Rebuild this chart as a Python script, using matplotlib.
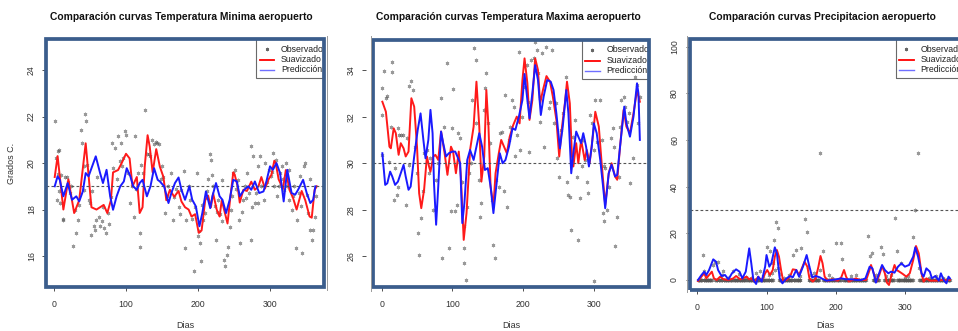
import matplotlib
matplotlib.use("Agg")
import matplotlib.pyplot as plt
from matplotlib.patches import Rectangle
from matplotlib.lines import Line2D

plt.rcParams['font.family'] = ['Liberation Sans', 'DejaVu Sans']

# ---------------- Temperatura minima ----------------
tmin_obs_dia = [2, 3, 4, 5, 6, 7, 7, 9, 10, 12, 13, 15, 18, 20, 22, 24, 26, 29, 31, 33,
                35, 37, 39, 41, 42, 43, 45, 46, 48, 50, 52, 53, 55, 57, 59, 60, 62, 64, 66, 68,
                69, 72, 75, 77, 79, 80, 82, 85, 87, 89, 91, 93, 95, 96, 98, 100, 103, 105, 108, 111,
                112, 114, 117, 119, 119, 121, 124, 127, 129, 132, 134, 136, 139, 141, 143, 146, 148, 150, 152, 154,
                157, 159, 162, 165, 167, 170, 173, 175, 177, 180, 182, 184, 187, 189, 191, 194, 196, 198, 200, 202,
                203, 204, 206, 207, 210, 212, 214, 216, 218, 219, 221, 224, 225, 227, 228, 231, 233, 234, 236, 238,
                240, 242, 244, 246, 247, 249, 251, 253, 255, 257, 259, 261, 263, 265, 267, 268, 271, 273, 273, 275,
                277, 279, 281, 283, 284, 286, 288, 291, 293, 296, 298, 301, 303, 304, 306, 308, 310, 312, 314, 316,
                318, 319, 322, 324, 326, 327, 330, 332, 333, 336, 338, 340, 341, 343, 345, 347, 349, 351, 353, 355,
                356, 358, 360, 362, 364]
tmin_obs = [21.8, 20.2, 18.4, 19.55, 20.5, 20.57, 18.8, 18.3, 19.5, 17.55, 17.6, 19.4, 19.4, 19.2, 18.7, 19.0, 16.45, 18.0, 17.0, 17.55,
            18.2, 21.43, 20.86, 19.86, 18.85, 22.1, 21.8, 19.9, 18.4, 18.3, 16.9, 18.8, 17.3, 17.1, 17.55, 19.4, 17.7, 17.3, 17.5, 18.1,
            17.2, 17.0, 17.85, 17.4, 18.55, 20.86, 19.8, 20.65, 19.3, 21.15, 20.1, 20.86, 19.86, 20.2, 21.36, 21.2, 19.57, 18.3, 19.0, 17.7,
            21.15, 18.9, 19.57, 17.0, 16.4, 19.9, 19.57, 22.3, 20.4, 20.4, 20.3, 21.0, 20.8, 20.9, 20.86, 20.8, 19.3, 19.86, 19.4, 17.85,
            18.6, 19.0, 19.57, 17.55, 18.55, 18.9, 18.1, 17.8, 18.85, 19.64, 16.35, 17.55, 19.0, 18.4, 17.6, 15.34, 18.1, 19.57, 16.85, 17.06,
            16.56, 15.77, 18.2, 17.55, 17.85, 18.8, 19.3, 20.4, 20.14, 19.5, 19.0, 18.14, 16.7, 17.9, 18.4, 17.8, 19.28, 17.5, 15.84, 15.56,
            16.06, 16.4, 17.27, 18.0, 18.57, 19.57, 19.71, 18.9, 19.28, 17.56, 16.56, 17.9, 18.42, 19.0, 18.5, 19.57, 18.71, 16.7, 20.72, 18.1,
            20.29, 18.28, 18.71, 18.3, 19.86, 20.29, 19.0, 18.42, 20.0, 19.2, 19.71, 19.43, 19.6, 20.43, 19.0, 20.14, 18.6, 19.0, 19.57, 19.86,
            19.3, 18.85, 20.0, 19.0, 19.7, 18.42, 17.99, 18.6, 19.0, 16.35, 17.56, 18.7, 19.43, 18.14, 16.13, 19.86, 20.0, 18.64, 17.85, 19.3,
            17.13, 16.7, 17.13, 17.7, 18.57]

tmin_suav_dia = [1, 5, 13, 20, 28, 35, 44, 52, 59, 64, 69, 74, 79, 82, 89, 94, 100, 105, 109, 115,
                 119, 123, 126, 130, 133, 137, 142, 147, 152, 156, 161, 167, 173, 177, 182, 187, 191, 196, 201, 205,
                 210, 214, 218, 221, 226, 230, 233, 237, 241, 245, 249, 251, 255, 258, 263, 268, 274, 279, 284, 288,
                 293, 298, 302, 306, 308, 312, 318, 322, 327, 332, 337, 344, 349, 355, 358, 362, 365]
tmin_suav = [19.4, 20.3, 18.0, 19.3, 17.85, 18.4, 20.85, 18.1, 18.0, 18.1, 18.2, 17.85, 18.4, 19.6, 19.7, 20.0, 20.4, 20.2, 19.0, 19.4,
             17.85, 18.1, 19.85, 21.2, 20.7, 19.6, 20.6, 19.85, 19.4, 18.4, 18.85, 18.55, 18.8, 18.35, 18.1, 18.0, 17.7, 17.8, 17.0, 17.1,
             18.4, 18.6, 18.1, 18.7, 18.0, 17.7, 18.4, 17.9, 17.4, 18.55, 19.6, 19.5, 19.0, 18.3, 18.85, 18.8, 19.2, 18.85, 19.0, 19.4,
             18.9, 19.3, 19.5, 20.1, 20.0, 19.3, 18.9, 19.7, 18.85, 18.5, 18.0, 18.8, 18.4, 17.7, 17.65, 18.85, 19.0]

tmin_pred_dia = [1, 5, 8, 13, 19, 25, 31, 35, 40, 44, 48, 58, 64, 68, 73, 78, 82, 87, 92, 97,
                 101, 106, 110, 115, 119, 123, 129, 134, 139, 144, 147, 153, 159, 163, 168, 173, 177, 182, 188, 192,
                 197, 202, 206, 211, 217, 220, 225, 230, 234, 239, 244, 249, 254, 258, 264, 270, 274, 279, 285, 291,
                 295, 300, 304, 309, 314, 319, 324, 330, 335, 339, 346, 351, 356, 360, 363]
tmin_pred = [19.0, 19.43, 19.28, 18.57, 19.14, 18.42, 18.57, 18.35, 18.78, 19.57, 19.43, 20.29, 19.57, 19.14, 19.71, 18.57, 17.99, 18.57, 19.0, 19.21,
             19.78, 19.43, 19.0, 18.85, 19.14, 19.28, 18.57, 19.0, 19.78, 19.28, 19.21, 19.0, 18.28, 18.71, 19.14, 19.38, 18.85, 18.42, 19.0, 18.42,
             18.14, 17.28, 17.85, 18.78, 18.06, 18.57, 19.14, 18.57, 18.42, 17.85, 18.42, 19.28, 19.21, 18.57, 18.85, 19.0, 18.85, 19.21, 18.71, 18.78,
             19.21, 19.86, 19.71, 20.0, 19.57, 18.35, 19.71, 18.71, 18.64, 18.85, 19.28, 18.71, 18.28, 18.42, 19.0]
tmin_ref = 19

# ---------------- Temperatura maxima ----------------
tmax_obs_dia = [0.5, 1, 4, 6, 8, 1, 11, 13, 14, 15, 17, 19, 23, 25, 27, 30, 22, 23, 35, 36,
                38, 39, 42, 45, 47, 50, 51, 53, 55, 58, 60, 64, 67, 69, 72, 77, 79, 84, 86, 88,
                93, 95, 98, 100, 101, 103, 106, 108, 111, 114, 116, 117, 119, 116, 121, 123, 127, 128, 131, 133,
                134, 138, 139, 140, 144, 146, 148, 151, 153, 156, 158, 160, 162, 166, 167, 170, 173, 175, 177, 180,
                182, 184, 187, 189, 192, 194, 196, 199, 202, 205, 207, 208, 211, 215, 217, 219, 221, 224, 224, 227,
                230, 233, 236, 238, 241, 243, 246, 248, 251, 254, 256, 260, 262, 264, 266, 268, 270, 274, 276, 278,
                280, 283, 285, 288, 290, 292, 295, 297, 300, 300, 302, 304, 308, 311, 314, 316, 313, 315, 318, 322,
                324, 327, 329, 330, 332, 335, 337, 339, 342, 344, 347, 349, 351, 355, 358, 361, 363, 365]
tmax_obs = [33.24, 32.07, 33.97, 32.79, 32.9, 30.36, 30.07, 31.57, 34.34, 33.93, 28.43, 29.79, 31.5, 31.2, 31.2, 31.2, 28.64, 29.0, 28.21, 31.07,
            29.93, 33.31, 33.53, 33.14, 30.71, 29.57, 27.0, 26.07, 27.64, 28.79, 30.43, 30.57, 29.57, 30.21, 28.0, 29.29, 30.0, 32.79, 25.93, 31.57,
            34.29, 26.36, 27.93, 31.5, 33.17, 27.97, 28.21, 31.29, 31.07, 29.21, 27.29, 26.36, 25.0, 25.71, 28.14, 29.57, 30.0, 32.71, 34.93, 34.43,
            31.71, 29.29, 27.71, 28.29, 32.29, 33.21, 33.86, 31.71, 30.86, 28.43, 26.5, 25.93, 29.29, 29.0, 31.29, 31.36, 28.79, 32.93, 28.14, 31.0,
            31.57, 32.71, 32.43, 30.29, 31.21, 34.79, 30.57, 32.0, 33.29, 34.21, 32.64, 30.5, 34.43, 34.5, 35.21, 34.86, 33.86, 32.79, 31.79, 34.71,
            30.71, 35.0, 32.36, 32.64, 34.86, 31.71, 32.57, 30.21, 29.43, 31.43, 32.14, 33.69, 29.21, 28.64, 28.57, 27.14, 31.14, 31.86, 29.43, 26.71,
            28.5, 29.86, 31.0, 30.14, 29.21, 28.71, 32.07, 31.71, 30.57, 24.93, 32.71, 30.93, 32.71, 31.0, 29.86, 29.79, 27.86, 27.5, 28.0, 29.0,
            31.07, 31.5, 30.71, 26.43, 27.71, 29.43, 31.57, 32.71, 32.86, 32.43, 31.79, 32.14, 29.14, 30.21, 33.69, 33.36, 31.71, 32.86]

tmax_suav_dia = [1, 6, 11, 13, 17, 20, 24, 27, 31, 34, 38, 42, 46, 50, 53, 56, 60, 64, 67, 69,
                 73, 76, 80, 84, 89, 93, 98, 101, 105, 109, 112, 116, 120, 125, 130, 134, 138, 141, 145, 148,
                 151, 154, 158, 161, 166, 169, 173, 177, 181, 186, 191, 195, 199, 202, 206, 209, 213, 217, 221, 224,
                 228, 233, 238, 242, 247, 251, 255, 259, 262, 266, 269, 271, 275, 278, 282, 287, 290, 294, 299, 302,
                 307, 311, 316, 321, 325, 330, 333, 337, 342, 346, 351, 356, 361, 365]
tmax_suav = [32.64, 32.21, 30.71, 30.64, 31.5, 31.29, 30.36, 30.86, 30.64, 30.29, 30.5, 32.79, 32.43, 30.71, 28.71, 28.07, 28.86, 30.29, 29.86, 29.64,
             30.29, 30.36, 30.14, 31.36, 30.43, 29.5, 30.71, 30.5, 29.57, 30.5, 29.43, 26.71, 27.86, 30.57, 31.57, 33.5, 31.57, 29.21, 30.29, 33.14,
             31.57, 29.0, 28.14, 29.57, 30.5, 31.0, 30.71, 30.43, 31.14, 31.64, 32.0, 31.71, 33.57, 34.5, 33.43, 31.86, 32.71, 34.5, 34.0, 32.57,
             33.14, 33.74, 33.5, 32.86, 31.86, 30.29, 31.57, 32.57, 33.5, 32.57, 30.29, 29.86, 30.86, 30.0, 31.0, 30.14, 30.57, 30.0, 31.29, 32.21,
             31.57, 30.0, 28.2, 29.57, 30.0, 29.43, 29.29, 30.71, 32.29, 31.57, 31.29, 32.14, 33.14, 32.64]

tmax_pred_dia = [1, 5, 8, 12, 15, 19, 23, 27, 31, 34, 38, 41, 46, 51, 55, 59, 62, 66, 69, 72,
                 74, 77, 80, 84, 87, 91, 95, 100, 104, 107, 111, 114, 117, 121, 125, 130, 134, 138, 142, 146,
                 150, 154, 158, 162, 167, 171, 175, 180, 185, 189, 194, 199, 202, 206, 209, 213, 217, 221, 225, 229,
                 234, 239, 243, 247, 252, 256, 261, 264, 268, 271, 275, 278, 282, 285, 289, 293, 297, 300, 304, 309,
                 313, 316, 321, 325, 330, 333, 337, 343, 346, 351, 356, 361, 363, 365]
tmax_pred = [30.43, 29.07, 29.14, 29.64, 29.43, 29.07, 29.21, 29.57, 29.93, 29.43, 28.86, 29.0, 30.29, 31.43, 32.14, 31.0, 30.21, 31.0, 32.29, 31.29,
             29.14, 27.36, 29.0, 31.36, 30.86, 30.29, 30.43, 30.5, 30.5, 30.29, 30.0, 27.43, 28.29, 30.14, 30.57, 30.14, 30.71, 31.29, 30.71, 29.71,
             29.79, 29.0, 27.86, 29.0, 30.43, 30.0, 30.14, 30.71, 31.5, 31.43, 32.0, 32.71, 33.83, 32.71, 31.93, 33.0, 34.21, 33.57, 32.07, 32.86,
             33.57, 33.5, 33.14, 32.14, 30.64, 31.57, 33.14, 32.14, 29.57, 30.43, 31.36, 31.14, 30.86, 31.29, 30.71, 29.86, 30.71, 31.71, 31.29, 30.14,
             29.0, 28.07, 29.57, 29.93, 29.43, 29.5, 30.71, 32.43, 31.71, 31.14, 32.0, 33.43, 33.0, 31.0]
tmax_ref = 30

# ---------------- Precipitacion ----------------
prec_lluvia_dia = [8, 10, 12, 22, 25, 30, 35, 37, 45, 52, 60, 71, 78, 85, 90, 95, 100, 103, 105, 108,
                   110, 111, 112, 114, 117, 117, 120, 125, 132, 138, 143, 148, 150, 155, 158, 160, 165, 168, 170, 177,
                   178, 181, 190, 195, 201, 208, 209, 222, 230, 246, 249, 252, 258, 266, 268, 272, 280, 286, 288, 295,
                   300, 305, 312, 314, 319, 320, 325, 335, 345, 355]
prec_lluvia = [10.7, 4.0, 1.5, 6.4, 7.6, 7.6, 2.0, 4.0, 1.0, 4.0, 2.5, 1.4, 1.0, 3.0, 4.0, 1.5, 14.3, 2.0, 12.6, 3.0,
               7.1, 17.1, 4.3, 25.0, 22.1, 5.0, 2.5, 1.0, 2.0, 10.7, 12.9, 1.5, 13.6, 26.0, 20.4, 5.7, 2.0, 3.0, 1.0, 54.3,
               4.3, 12.6, 2.0, 1.0, 15.7, 15.7, 9.2, 1.5, 2.0, 19.0, 10.3, 11.7, 2.0, 14.0, 11.1, 1.5, 2.0, 26.5, 12.3, 7.1,
               1.0, 1.5, 18.6, 30.0, 54.3, 5.0, 2.0, 1.0, 1.5, 1.0]
# runs of days with no rain (observed value 0)
prec_dias_secos = [(1, 7), (9, 21), (26, 29), (31, 36), (38, 51), (53, 70), (72, 89), (91, 99), (101, 104),
                   (106, 109), (118, 137), (139, 142), (144, 149), (161, 167), (169, 176), (182, 200),
                   (202, 207), (211, 244), (254, 262), (270, 284), (289, 294), (296, 311), (321, 365)]

prec_suav_dia = [1, 6, 10, 13, 17, 21, 24, 28, 33, 38, 45, 52, 56, 62, 66, 71, 75, 78, 83, 88,
                 93, 98, 101, 105, 109, 112, 115, 118, 121, 124, 129, 134, 138, 143, 147, 150, 155, 159, 162, 167,
                 171, 175, 178, 181, 184, 189, 194, 199, 203, 208, 212, 215, 219, 224, 229, 235, 244, 249, 251, 255,
                 259, 263, 267, 271, 274, 277, 280, 285, 288, 292, 297, 302, 307, 312, 316, 320, 324, 327, 331, 336,
                 345, 355, 365]
prec_suav = [-0.43, 1.43, 2.86, 0.71, 2.14, 3.57, 0.71, 0.0, 1.43, 0.29, 0.0, 0.71, 1.71, 0.29, 0.71, 1.43, 0.29, 0.71, -0.71, 1.43,
             -0.29, 2.86, 4.29, 2.14, 4.29, 10.0, 12.86, 10.0, 4.29, -0.29, 0.0, 1.43, 4.57, 4.29, 2.14, 4.29, 7.86, 5.71, 0.71, -0.71,
             0.71, 5.71, 10.29, 7.14, 1.43, -0.43, 0.29, 0.0, -0.29, 1.14, 4.29, 1.43, -0.71, 0.0, 0.71, 0.0, 0.0, 4.29, 6.43, 2.86,
             -0.71, 2.14, 6.0, 2.86, -1.14, -2.14, 1.43, 6.43, 4.29, 3.57, 2.57, 1.43, 2.86, 8.57, 14.57, 11.43, 2.86, -0.71, 0.71, -0.29,
             -0.29, 0.0, 0.0]

prec_pred_dia = [1, 6, 10, 13, 17, 23, 27, 30, 35, 40, 45, 50, 56, 61, 65, 70, 75, 78, 81, 85,
                 88, 93, 98, 100, 104, 107, 112, 115, 119, 123, 129, 134, 138, 143, 147, 153, 158, 162, 166, 171,
                 177, 182, 187, 194, 201, 208, 215, 223, 230, 237, 243, 249, 253, 258, 261, 267, 271, 276, 280, 285,
                 290, 295, 300, 306, 312, 315, 319, 324, 327, 331, 336, 339, 344, 349, 352, 356, 360, 363, 365]
prec_pred = [0.0, 2.14, 3.57, 2.14, 4.29, 8.86, 7.86, 4.29, 1.71, 2.14, 0.29, 2.86, 4.57, 3.57, 0.71, 3.57, 13.57, 7.14, 0.0, -1.71,
             1.43, -0.71, 5.71, 10.71, 5.71, 7.14, 14.0, 11.43, 0.71, -1.43, 0.71, 1.71, 1.14, 4.29, 1.43, 6.0, 10.71, 5.71, 1.14, 1.71,
             1.14, 0.29, -0.29, 0.0, 0.29, 0.71, 0.29, 0.29, 0.0, 0.0, 0.71, 5.71, 5.0, -1.14, 1.43, 6.43, 4.29, 2.86, 3.57, 3.14,
             5.71, 7.14, 5.71, 6.43, 10.0, 14.0, 10.0, 2.86, 1.43, 5.0, 3.57, 0.71, 1.71, -0.29, 2.86, 0.0, -1.43, 1.43, 0.71]
prec_ref = 30

prec_obs_dia = [d for a, b in prec_dias_secos for d in range(a, b + 1)] + prec_lluvia_dia
prec_obs = [0.0] * (len(prec_obs_dia) - len(prec_lluvia)) + prec_lluvia

etiquetas = ['Observado', 'Suavizado', 'Predicción']

# ---------------- layout ----------------
W, H = 958, 331
fig = plt.figure(figsize=(W / 100, H / 100), dpi=100)
marco = '#3b5d8c'
txt = '#333333'


def ejes(x0, x1, y0, y1):
    return fig.add_axes([x0 / W, 1 - y1 / H, (x1 - x0) / W, (y1 - y0) / H])


def leyenda(ax, wpx, hpx):
    fx = lambda d: 0.756 + d / wpx
    fy = lambda d: 1 - d / hpx
    ax.add_patch(Rectangle((fx(0), fy(39.5)), 0.5, 39.5 / hpx + 0.05, transform=ax.transAxes,
                           fill=False, edgecolor='#6a6a6a', lw=0.8, zorder=6))
    ax.plot([fx(10.5)], [fy(10.5)], transform=ax.transAxes, ls='none', marker=(6, 2, 0),
            ms=2.4, mew=0.6, color='#666666', zorder=6)
    ax.plot([fx(3.5), fx(18)], [fy(21), fy(21)], transform=ax.transAxes, color='red', lw=1.3, zorder=6)
    ax.plot([fx(3.5), fx(18)], [fy(31), fy(31)], transform=ax.transAxes, color='#6f6fff', lw=1.0, zorder=6)
    for k, lab in enumerate(etiquetas):
        ax.text(fx(25), fy(10.5 + 10.3 * k), lab, transform=ax.transAxes, fontsize=6.3,
                color='#222222', va='center', ha='left', clip_on=True, zorder=6)


def panel(ax, wpx, hpx, obs_d, obs, suav_d, suav, pred_d, pred, ref, xlim, ylim, yticks, titulo, xc,
          y_out=0):
    ax.plot(obs_d, obs, ls='none', marker=(6, 2, 0), ms=2.6, mew=0.6, color='#555555', alpha=0.6, zorder=2)
    ax.plot(suav_d, suav, color='#ff1a1a', lw=1.4, zorder=3)
    ax.plot(pred_d, pred, color='#1a1aff', lw=1.4, zorder=4)
    ax.axhline(ref, color='#555555', lw=0.8, ls=(0, (2.5, 2)), zorder=3)
    ax.set_xlim(*xlim)
    ax.set_ylim(*ylim)
    ax.set_xticks([0, 100, 200, 300])
    ax.set_yticks(yticks)
    for s in ax.spines.values():
        s.set_color('none')
    if y_out:
        ax.spines['left'].set_position(('outward', y_out))
    ax.add_patch(Rectangle((0, 0), 1, 1, transform=ax.transAxes, fill=False, edgecolor=marco,
                           lw=2.7, zorder=10, clip_on=False))
    ax.tick_params(direction='out', length=3, width=0.6, color=txt, labelsize=6.3, labelcolor=txt)
    ax.tick_params(axis='x', pad=6.0)
    ax.tick_params(axis='y', pad=4.5, labelrotation=90)
    for t in ax.get_yticklabels():
        t.set_va('center')
    leyenda(ax, wpx, hpx)
    fig.text(xc / W, 1 - 17 / H, titulo, fontsize=7.4, fontweight='bold', color='#111111',
             ha='center', va='center')
    fig.text((ax.get_position().x0 + ax.get_position().width / 2), 1 - 325.5 / H, 'Dias',
             fontsize=6.5, color=txt, ha='center', va='center')


ax1 = ejes(46.3, 323.7, 38.7, 287.2)
panel(ax1, 277.4, 248.5, tmin_obs_dia, tmin_obs, tmin_suav_dia, tmin_suav, tmin_pred_dia, tmin_pred,
      tmin_ref, (-10.7, 374.6), (14.66, 25.35), [16, 18, 20, 22, 24],
      'Comparación curvas Temperatura Minima aeropuerto', 181)
fig.text(12 / W, 1 - 163 / H, 'Grados C.', fontsize=6.5, color=txt, rotation=90, ha='center', va='center')

ax2 = ejes(373.3, 648.7, 39.5, 287.2)
panel(ax2, 275.4, 247.7, tmax_obs_dia, tmax_obs, tmax_suav_dia, tmax_suav, tmax_pred_dia, tmax_pred,
      tmax_ref, (-11.8, 377.5), (24.68, 35.31), [26, 28, 30, 32, 34],
      'Comparación curvas Temperatura Maxima aeropuerto', 508, y_out=5)

ax3 = ejes(689.5, 962, 38.8, 290)
panel(ax3, 272.5, 251.2, prec_obs_dia, prec_obs, prec_suav_dia, prec_suav, prec_pred_dia, prec_pred,
      prec_ref, (-11.3, 382.5), (-4.29, 103.4), [0, 20, 40, 60, 80, 100],
      'Comparación curvas Precipitacion aeropuerto', 822)

# thin grey picture borders
for x, y0, y1 in [(326.5, 36, 290), (370.5, 36, 291), (686.8, 36, 292)]:
    fig.add_artist(Line2D([x / W, x / W], [1 - y0 / H, 1 - y1 / H], color='#9a9a9a', lw=0.7))

fig.savefig('out.png', dpi=100)
